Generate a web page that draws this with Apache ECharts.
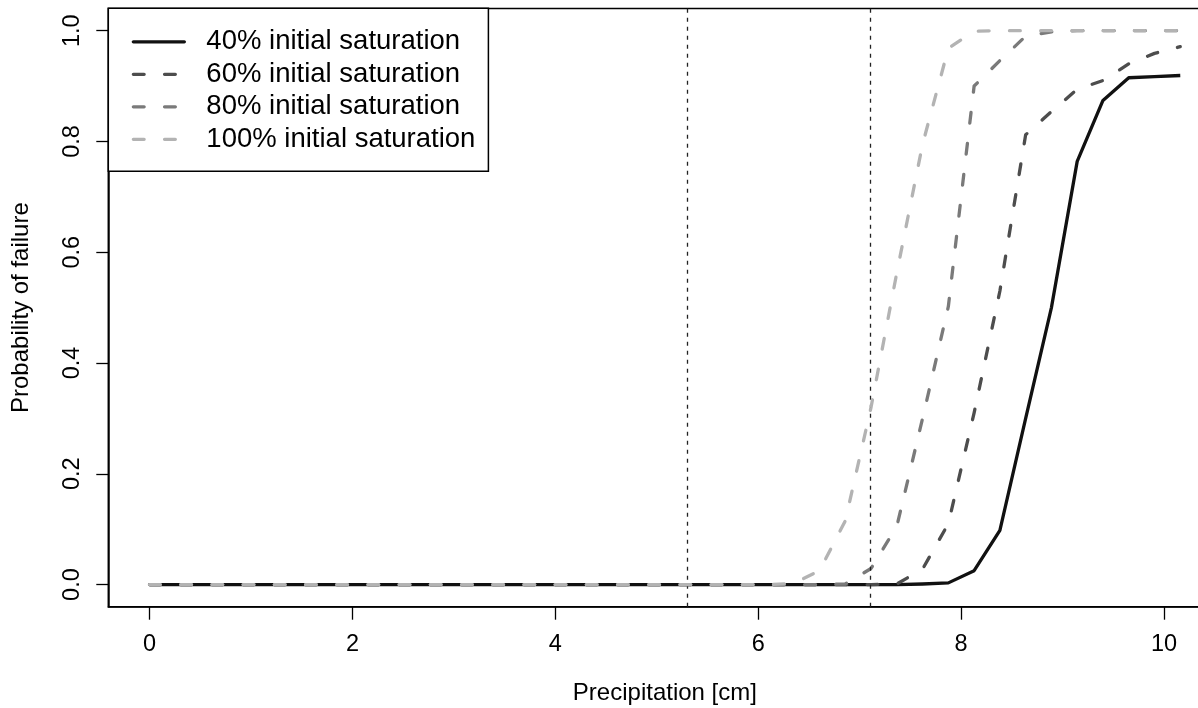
<!DOCTYPE html>
<html>
<head>
<meta charset="utf-8">
<script src="https://cdn.jsdelivr.net/npm/echarts@6/dist/echarts.min.js"></script>
<style>
html,body{margin:0;padding:0;background:#fff;}
#chart{width:1198px;height:708px;}
</style>
</head>
<body>
<div id="chart"></div>
<script>
// ---- data ----
const precip = [0, 0.254, 0.508, 0.762, 1.016, 1.27, 1.524, 1.778, 2.032, 2.286,
  2.54, 2.794, 3.048, 3.302, 3.556, 3.81, 4.064, 4.318, 4.572, 4.826,
  5.08, 5.334, 5.588, 5.842, 6.096, 6.35, 6.604, 6.858, 7.112, 7.366,
  7.62, 7.874, 8.128, 8.382, 8.636, 8.89, 9.144, 9.398, 9.652, 9.906, 10.16];

const sat40 = [0,0,0,0,0,0,0,0,0,0, 0,0,0,0,0,0,0,0,0,0, 0,0,0,0,0,0,0,0,0,0,
  0.001, 0.003, 0.025, 0.098, 0.30, 0.50, 0.764, 0.874, 0.915, 0.917, 0.919];
const sat60 = [0,0,0,0,0,0,0,0,0,0, 0,0,0,0,0,0,0,0,0,0, 0,0,0,0,0,0,0,0,0,
  0.001, 0.028, 0.11, 0.31, 0.53, 0.812, 0.854, 0.894, 0.91, 0.94, 0.959, 0.971];
const sat80 = [0,0,0,0,0,0,0,0,0,0, 0,0,0,0,0,0,0,0,0,0, 0,0,0,0,0,0,0,
  0.001, 0.029, 0.105, 0.30, 0.502, 0.90, 0.946, 0.99, 0.998, 1, 1, 1, 1, 1];
const sat100 = [0,0,0,0,0,0,0,0,0,0, 0,0,0,0,0,0,0,0,0,0, 0,0,0,0,0,
  0.002, 0.025, 0.115, 0.32, 0.563, 0.795, 0.968, 0.999, 1, 1, 1, 1, 1, 1, 1, 1];

const seriesNames = ['40% initial saturation', '60% initial saturation',
  '80% initial saturation', '100% initial saturation'];
const seriesColors = ['#111111', '#4d4d4d', '#7a7a7a', '#b3b3b3'];
const xTicks = [0, 2, 4, 6, 8, 10];
const yTicks = [0, 0.2, 0.4, 0.6, 0.8, 1.0];
const refLines = [5.3, 7.1];

const xMin = -0.4064, xMax = 10.5664;
const yMin = -0.04, yMax = 1.04;

// ---- chart ----
const FONT = '"Liberation Sans", Arial, Helvetica, sans-serif';
const chart = echarts.init(document.getElementById('chart'), null, {renderer: 'canvas'});
const allSeries = [sat40, sat60, sat80, sat100];

const series = allSeries.map((vals, i) => ({
  name: seriesNames[i],
  type: 'line',
  data: precip.map((x, j) => [x, vals[j]]),
  symbol: 'none',
  showSymbol: false,
  clip: true,
  z: 2 + i,
  lineStyle: {
    color: seriesColors[i],
    width: 3.3,
    type: i === 0 ? 'solid' : [10.8, 20.4],
    cap: i === 0 ? 'butt' : 'round',
    join: 'round'
  },
  itemStyle: {color: seriesColors[i]},
  emphasis: {disabled: true}
}));

series.push({
  name: 'ref',
  type: 'line',
  data: [],
  symbol: 'none',
  z: 10,
  markLine: {
    silent: true,
    symbol: 'none',
    animation: false,
    label: {show: false},
    lineStyle: {color: '#222', width: 1.3, type: [4, 5]},
    data: refLines.map(v => ({xAxis: v}))
  }
});

chart.setOption({
  animation: false,
  backgroundColor: '#fff',
  textStyle: {fontFamily: FONT},
  grid: {
    left: 108.3, top: 8.5, width: 1113.2, height: 598.2,
    show: true, borderColor: '#000', borderWidth: 1.5,
    backgroundColor: 'transparent',
    containLabel: false,
    outerBoundsMode: 'none'
  },
  xAxis: {
    type: 'value', min: xMin, max: xMax,
    axisLine: {show: true, onZero: false, lineStyle: {color: '#000', width: 1.5}},
    splitLine: {show: false},
    axisTick: {show: true, length: 13, lineStyle: {color: '#000', width: 1.3}, customValues: xTicks},
    axisLabel: {show: true, margin: 26, fontSize: 23.5, color: '#000', fontFamily: FONT,
      customValues: xTicks, formatter: v => String(Math.round(v))},
    name: 'Precipitation [cm]', nameLocation: 'middle', nameGap: 74.6,
    nameTextStyle: {fontSize: 24, color: '#000', fontFamily: FONT}
  },
  yAxis: {
    type: 'value', min: yMin, max: yMax,
    axisLine: {show: true, onZero: false, lineStyle: {color: '#000', width: 1.5}},
    splitLine: {show: false},
    axisTick: {show: true, length: 12, lineStyle: {color: '#000', width: 1.3}, customValues: yTicks},
    axisLabel: {show: true, margin: 23.5, fontSize: 23.5, color: '#000', rotate: 90, fontFamily: FONT,
      customValues: yTicks, formatter: v => v.toFixed(1)},
    name: 'Probability of failure', nameLocation: 'middle', nameGap: 74.6, nameRotate: 90,
    nameTextStyle: {fontSize: 24, color: '#000', fontFamily: FONT}
  },
  legend: {
    show: true,
    orient: 'vertical',
    left: 108.3, top: 8.3,
    data: seriesNames,
    backgroundColor: '#fff',
    borderColor: '#000', borderWidth: 1.5, borderRadius: 0,
    padding: [19.5, 13, 18.0, 23.4],
    itemWidth: 51, itemHeight: 14, itemGap: 4.5,
    selectedMode: false,
    itemStyle: {opacity: 0},
    lineStyle: {width: 3.3, cap: 'round'},
    textStyle: {fontSize: 27.5, lineHeight: 28, color: '#000', fontFamily: FONT, padding: [0, 0, 0, 17]}
  },
  series: series
});
</script>
</body>
</html>
